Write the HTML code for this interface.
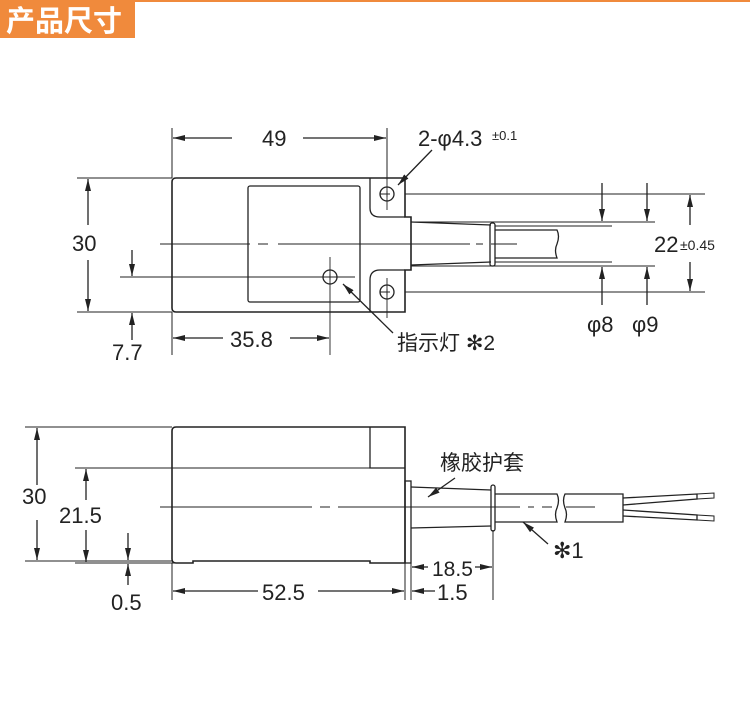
<!DOCTYPE html>
<html><head><meta charset="utf-8"><style>
html,body{margin:0;padding:0;background:#fff;width:750px;height:704px;overflow:hidden}
svg{display:block}
text{font-family:"Liberation Sans","Noto Sans CJK SC",sans-serif;fill:#222}
</style></head><body>
<svg width="750" height="704" viewBox="0 0 750 704" xmlns="http://www.w3.org/2000/svg">
<defs>
<marker id="a" viewBox="0 0 12 6" refX="12" refY="3" markerWidth="12" markerHeight="6" orient="auto-start-reverse" markerUnits="userSpaceOnUse"><path d="M0,0 L12,3 L0,6 Z" fill="#222"/></marker>
</defs>
<rect x="0" y="0" width="750" height="2" fill="#f08a3c"/>
<rect x="0" y="0" width="135" height="38" fill="#f08a3c"/>
<text x="6" y="31" font-size="29" font-weight="bold" style="fill:#fff" font-family="Noto Sans CJK SC,sans-serif">产品尺寸</text>

<g stroke="#222" fill="none" stroke-width="1.3">
<!-- TOP VIEW -->
<path d="M176,178 H405 V217 H411 V270 H405 V312 H176 Q172,312 172,308 V182 Q172,178 176,178 Z" stroke-width="1.6"/>
<path d="M370,178 V208 Q370,217 380,217 H405 M370,312 V280 Q370,270 380,270 H405" />
<rect x="248" y="186" width="112" height="116" rx="2"/>
<circle cx="387" cy="194" r="7"/><circle cx="387" cy="292" r="7"/><circle cx="330" cy="277" r="7"/>
<path d="M384,194h6M387,191v6M384,292h6M387,289v6M327,277h6M330,274v6" stroke-width="1"/>
<path d="M387,180V210M387,278V318M380,194h10M380,292h10M330,257V355" stroke-width="0.9"/>
<path d="M411,222 L491,225 M411,265 L491,262"/>
<rect x="490" y="223" width="5" height="43" rx="2"/>
<path d="M495,230 H557 Q560,236 557,244 Q554,250 557,258 H495"/>
<path d="M160,244 H250 M258,244 H268 M278,244 H470 M476,244 H483 M491,244 H517" stroke-width="1"/>
<path d="M405,194 H705 M405,292 H705 M411,222 H655 M411,266 H655 M495,226 H612 M495,262 H612" stroke-width="1"/>
<path d="M172,128V178 M387,128V180 M77,178H172 M77,312H172 M120,277H355 M172,312V355" stroke-width="1"/>
<line x1="232" y1="138" x2="173" y2="138" marker-end="url(#a)"/>
<line x1="303" y1="138" x2="386" y2="138" marker-end="url(#a)"/>
<line x1="88" y1="225" x2="88" y2="179" marker-end="url(#a)"/>
<line x1="88" y1="260" x2="88" y2="311" marker-end="url(#a)"/>
<line x1="132" y1="250" x2="132" y2="276" marker-end="url(#a)"/>
<line x1="132" y1="340" x2="132" y2="313" marker-end="url(#a)"/>
<line x1="223" y1="338" x2="173" y2="338" marker-end="url(#a)"/>
<line x1="290" y1="338" x2="329" y2="338" marker-end="url(#a)"/>
<line x1="602" y1="183" x2="602" y2="221" marker-end="url(#a)"/>
<line x1="602" y1="305" x2="602" y2="267" marker-end="url(#a)"/>
<line x1="647" y1="183" x2="647" y2="221" marker-end="url(#a)"/>
<line x1="647" y1="305" x2="647" y2="267" marker-end="url(#a)"/>
<line x1="690" y1="225" x2="690" y2="195" marker-end="url(#a)"/>
<line x1="690" y1="262" x2="690" y2="291" marker-end="url(#a)"/>
<line x1="432" y1="150" x2="398" y2="185" marker-end="url(#a)"/>
<line x1="393" y1="333" x2="343" y2="284" marker-end="url(#a)"/>

<!-- BOTTOM VIEW -->
<path d="M176,427 H405 V563 H370 V561 H193 V563 H176 Q172,563 172,559 V431 Q172,427 176,427 Z" stroke-width="1.6"/>
<path d="M370,427 V468 H405"/>
<rect x="405" y="481" width="6" height="82"/>
<path d="M411,487 L491,490 M411,528 L491,526"/>
<rect x="491" y="485" width="4" height="46" rx="2"/>
<path d="M495,494 H557 Q560,500 557,508 Q554,514 557,522 H495"/>
<path d="M565,494 Q562,500 565,508 Q568,514 565,522 H623 V494 Z"/>
<path d="M623,498 L697,494 V499 L623,505 M623,516 L697,520 V515 L623,510"/>
<path d="M697,494 L714,493 V498 L697,499 M697,515 L714,516 V521 L697,520" stroke-width="1"/>
<path d="M160,507 H312 M320,507 H330 M338,507 H520 M528,507 H534 M542,507 H552 M566,507 H595" stroke-width="1"/>
<path d="M25,427H172 M75,468H370 M25,561H172 M75,563H193 M172,563V600 M405,563V600 M411,563V600 M493,530V600" stroke-width="1"/>
<line x1="37" y1="485" x2="37" y2="428" marker-end="url(#a)"/>
<line x1="37" y1="520" x2="37" y2="560" marker-end="url(#a)"/>
<line x1="86" y1="500" x2="86" y2="469" marker-end="url(#a)"/>
<line x1="86" y1="530" x2="86" y2="562" marker-end="url(#a)"/>
<line x1="128" y1="533" x2="128" y2="560" marker-end="url(#a)"/>
<line x1="128" y1="585" x2="128" y2="564" marker-end="url(#a)"/>
<line x1="258" y1="591" x2="173" y2="591" marker-end="url(#a)"/>
<line x1="318" y1="591" x2="404" y2="591" marker-end="url(#a)"/>
<line x1="435" y1="591" x2="412" y2="591" marker-end="url(#a)"/>
<line x1="428" y1="567" x2="412" y2="567" marker-end="url(#a)"/>
<line x1="475" y1="567" x2="492" y2="567" marker-end="url(#a)"/>
<line x1="455" y1="478" x2="428" y2="497" marker-end="url(#a)"/>
<line x1="548" y1="544" x2="523" y2="522" marker-end="url(#a)"/>
</g>

<g font-size="22">
<text x="262" y="146">49</text>
<text x="418" y="146">2-φ4.3</text><text x="492" y="140" font-size="13">±0.1</text>
<text x="72" y="251">30</text>
<text x="112" y="360">7.7</text>
<text x="230" y="347">35.8</text>
<text x="397" y="350" font-size="21">指示灯 ✻2</text>
<text x="587" y="332">φ8</text>
<text x="632" y="332">φ9</text>
<text x="654" y="252">22</text><text x="680" y="250" font-size="14">±0.45</text>
<text x="22" y="504">30</text>
<text x="59" y="523">21.5</text>
<text x="111" y="610">0.5</text>
<text x="262" y="600">52.5</text>
<text x="432" y="576" font-size="21">18.5</text>
<text x="437" y="600">1.5</text>
<text x="440" y="470" font-size="21">橡胶护套</text>
<text x="553" y="558">✻1</text>
</g>
</svg>
</body></html>
